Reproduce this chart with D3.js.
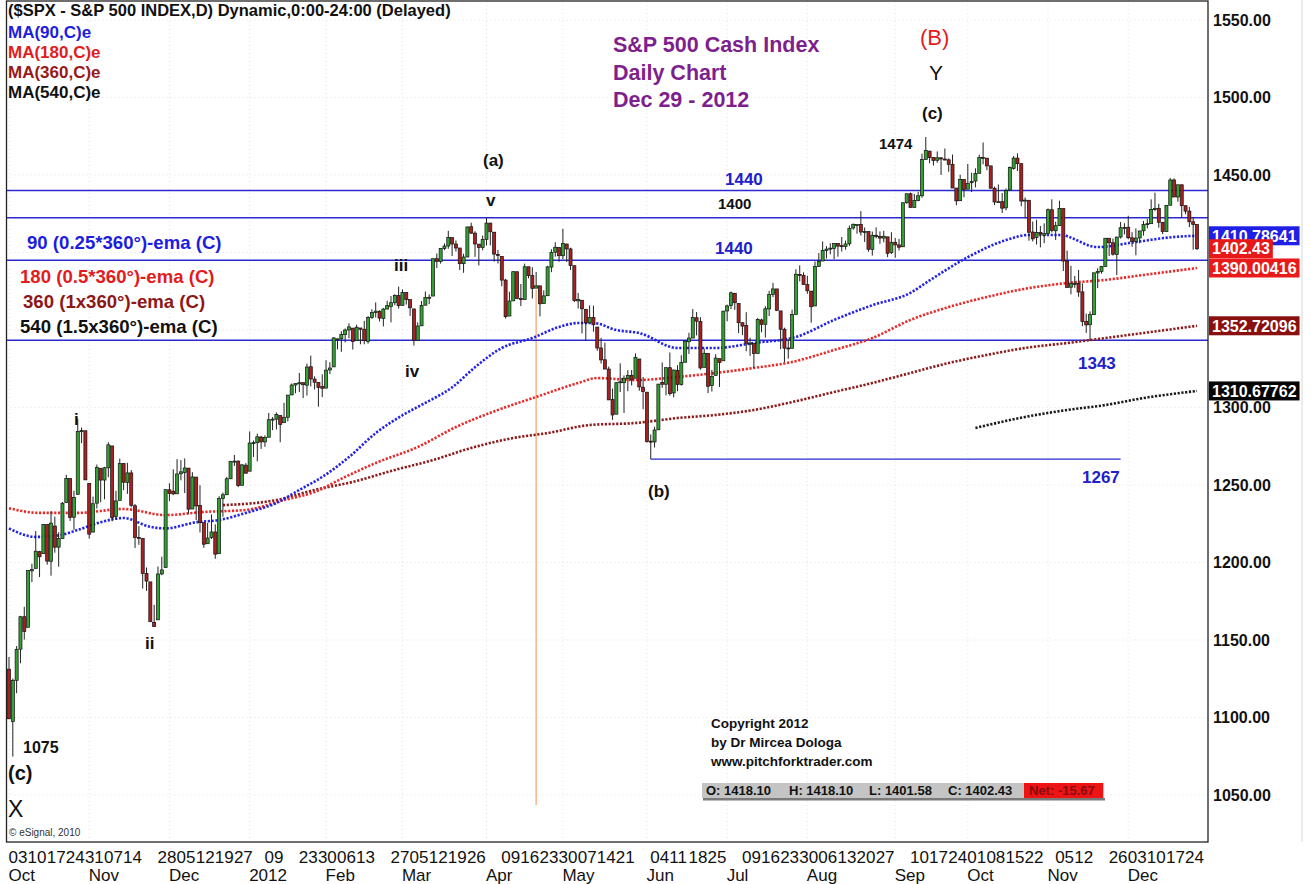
<!DOCTYPE html>
<html lang="en">
<head>
<meta charset="UTF-8">
<title>S&amp;P 500 Cash Index - Daily Chart</title>
<script src="https://d3js.org/d3.v7.min.js"></script>
<style>
  body { margin: 0; background: #fff; }
  svg text { font-family: "Liberation Sans", Arial, sans-serif; }
</style>
</head>
<body>
<svg width="1311" height="884"></svg>
<script>
// trading days shown on the chart, per month
const monthDays = [
  ['2011-10', [3,4,5,6,7,10,11,12,13,14,17,18,19,20,21,24,25,26,27,28,31]],
  ['2011-11', [1,2,3,4,7,8,9,10,11,14,15,16,17,18,21,22,23,25,28,29,30]],
  ['2011-12', [1,2,5,6,7,8,9,12,13,14,15,16,19,20,21,22,23,27,28,29,30]],
  ['2012-01', [3,4,5,6,9,10,11,12,13,17,18,19,20,23,24,25,26,27,30,31]],
  ['2012-02', [1,2,3,6,7,8,9,10,13,14,15,16,17,21,22,23,24,27,28,29]],
  ['2012-03', [1,2,5,6,7,8,9,12,13,14,15,16,19,20,21,22,23,26,27,28,29,30]],
  ['2012-04', [2,3,4,5,9,10,11,12,13,16,17,18,19,20,23,24,25,26,27,30]],
  ['2012-05', [1,2,3,4,7,8,9,10,11,14,15,16,17,18,21,22,23,24,25,29,30,31]],
  ['2012-06', [1,4,5,6,7,8,11,12,13,14,15,18,19,20,21,22,25,26,27,28,29]],
  ['2012-07', [2,3,5,6,9,10,11,12,13,16,17,18,19,20,23,24,25,26,27,30,31]],
  ['2012-08', [1,2,3,6,7,8,9,10,13,14,15,16,17,20,21,22,23,24,27,28,29,30,31]],
  ['2012-09', [4,5,6,7,10,11,12,13,14,17,18,19,20,21,24,25,26,27,28]],
  ['2012-10', [1,2,3,4,5,8,9,10,11,12,15,16,17,18,19,22,23,24,25,26,31]],
  ['2012-11', [1,2,5,6,7,8,9,12,13,14,15,16,19,20,21,23,26,27,28,29,30]],
  ['2012-12', [3,4,5,6,7,10,11,12,13,14,17,18,19,20,21,24,26,27,28]]
];

const open = [
  1131.2,1097.4,1124.0,1144.1,1165.0,1158.2,1194.6,1196.2,1207.0,1205.7,1224.5,1200.8,1223.5,1209.9,1215.4,1238.7,1254.2,1229.2,1244.0,1284.4,1285.0,
  1251.0,1219.6,1238.3,1260.8,1253.2,1261.1,1275.2,1229.6,1240.1,1263.9,1251.7,1257.8,1236.6,1216.2,1215.6,1193.0,1187.5,1161.4,1163.0,1192.6,1196.7,
  1246.9,1246.0,1244.3,1257.2,1258.1,1260.9,1234.5,1255.1,1236.8,1225.7,1212.1,1216.1,1219.7,1205.7,1241.3,1243.7,1254.0,1265.0,1265.4,1249.8,1262.8,
  1258.9,1277.0,1277.3,1280.9,1277.8,1280.8,1292.0,1292.5,1294.8,1290.2,1293.7,1308.1,1314.5,1315.3,1316.0,1314.4,1326.3,1318.3,1316.2,1313.5,
  1312.5,1324.2,1326.2,1344.3,1344.3,1347.0,1350.0,1351.2,1343.1,1351.3,1350.5,1342.6,1358.1,1361.2,1362.1,1357.5,1363.5,1365.2,1367.6,1372.2,
  1365.9,1374.1,1369.6,1363.6,1343.4,1352.7,1366.0,1370.8,1371.9,1396.0,1394.2,1402.6,1404.2,1409.6,1405.5,1402.9,1392.8,1397.1,1416.6,1412.5,1405.4,1403.3,
  1408.5,1419.0,1413.1,1398.8,1397.5,1382.2,1359.0,1368.8,1387.6,1370.3,1369.6,1390.8,1385.1,1377.0,1378.5,1367.0,1372.1,1390.6,1400.2,1403.3,
  1397.9,1405.5,1402.3,1391.5,1368.8,1369.2,1363.2,1354.6,1358.1,1351.9,1338.4,1330.8,1324.8,1305.1,1295.7,1316.1,1316.0,1318.7,1320.8,1318.9,1331.3,1313.1,
  1309.9,1278.3,1277.8,1285.6,1316.2,1315.0,1325.7,1309.4,1324.0,1314.9,1329.2,1342.4,1344.8,1357.9,1355.4,1325.9,1334.9,1314.1,1320.7,1331.5,1330.1,
  1362.3,1365.8,1373.7,1367.1,1354.7,1353.0,1341.4,1341.3,1334.8,1356.5,1353.7,1363.6,1373.0,1376.5,1362.3,1350.5,1338.4,1338.2,1360.1,1385.9,1385.3,
  1379.3,1375.1,1365.5,1391.0,1394.5,1401.2,1402.3,1402.6,1405.9,1404.4,1403.9,1405.6,1415.8,1417.9,1418.1,1413.1,1413.5,1402.0,1411.1,1410.4,1409.3,1410.1,1400.1,
  1406.5,1404.9,1403.7,1432.1,1437.9,1429.1,1433.6,1436.6,1460.1,1465.4,1461.2,1459.5,1461.1,1460.3,1459.8,1456.9,1441.6,1433.4,1447.1,
  1440.9,1445.0,1446.1,1451.1,1461.4,1460.9,1455.9,1441.5,1432.8,1432.8,1428.8,1440.3,1454.2,1460.9,1457.3,1433.2,1433.7,1413.2,1409.7,1413.0,1411.0,
  1412.2,1427.6,1414.0,1417.3,1428.3,1394.5,1377.6,1379.9,1380.0,1374.6,1355.4,1353.4,1359.9,1386.8,1387.8,1391.0,1409.2,1406.3,1398.8,1410.0,1416.0,
  1416.3,1409.5,1407.1,1409.4,1414.0,1418.1,1418.6,1427.8,1428.5,1419.5,1413.5,1430.5,1446.8,1435.8,1443.7,1430.2,1426.7,1419.8,1418.1
];
const high = [
  1139.0,1125.1,1146.1,1165.6,1171.4,1194.9,1199.2,1220.3,1207.5,1224.6,1224.5,1233.1,1229.6,1219.5,1239.0,1256.6,1254.2,1246.3,1292.7,1287.1,1285.0,
  1251.0,1242.5,1263.2,1260.8,1261.7,1277.6,1275.2,1246.2,1267.0,1263.9,1264.3,1259.6,1237.7,1223.5,1215.6,1196.8,1187.5,1172.7,1197.4,1203.7,1247.1,
  1251.1,1260.1,1266.7,1266.0,1267.1,1260.9,1258.3,1255.1,1249.9,1225.7,1225.6,1231.0,1224.6,1242.8,1245.1,1255.2,1265.4,1269.4,1265.9,1263.5,1264.1,
  1284.6,1278.7,1283.1,1281.8,1282.0,1296.5,1293.8,1296.8,1294.8,1303.0,1308.1,1315.5,1315.4,1322.3,1316.0,1328.3,1333.5,1320.1,1316.2,1321.4,
  1330.5,1329.2,1345.3,1344.4,1349.2,1351.0,1354.3,1351.2,1353.4,1351.3,1355.9,1359.0,1363.4,1367.8,1362.7,1364.2,1368.9,1371.9,1373.1,1378.0,
  1376.2,1374.5,1369.6,1363.6,1354.9,1368.7,1374.8,1373.0,1396.1,1399.4,1402.6,1405.9,1414.0,1409.6,1407.8,1402.9,1399.2,1416.6,1419.2,1413.7,1405.4,1410.9,
  1422.4,1419.0,1413.1,1401.6,1397.5,1383.0,1374.7,1388.1,1387.6,1379.7,1392.8,1390.8,1390.5,1387.4,1378.5,1375.6,1391.4,1402.1,1406.6,1403.3,
  1415.3,1405.5,1403.1,1391.5,1373.9,1369.2,1363.7,1365.9,1365.7,1351.9,1344.9,1341.8,1326.4,1312.2,1316.4,1328.5,1320.7,1324.1,1324.2,1334.9,1331.3,1319.7,
  1309.9,1282.6,1287.6,1315.1,1329.1,1325.8,1335.5,1324.3,1327.3,1333.7,1343.3,1348.2,1363.5,1361.6,1358.3,1337.8,1334.9,1324.2,1334.4,1331.5,1362.2,
  1366.4,1374.8,1373.9,1367.1,1354.9,1361.5,1345.0,1341.3,1357.7,1357.3,1365.4,1375.3,1380.4,1376.5,1362.3,1351.5,1344.0,1363.1,1389.2,1391.7,1387.2,
  1385.0,1375.1,1394.2,1399.6,1407.1,1404.1,1406.0,1406.0,1405.9,1410.0,1407.7,1417.4,1418.7,1418.1,1426.7,1416.1,1413.5,1413.5,1416.2,1413.6,1414.0,1410.1,1413.1,
  1409.3,1408.8,1432.1,1437.9,1438.7,1437.8,1439.2,1463.8,1474.5,1465.6,1461.5,1465.2,1461.2,1467.1,1460.7,1463.2,1441.6,1450.2,1447.1,
  1457.1,1451.5,1454.3,1463.1,1471.0,1460.9,1455.9,1442.5,1443.9,1438.4,1441.3,1455.5,1462.2,1464.0,1457.3,1435.5,1433.7,1420.0,1421.1,1417.1,1418.8,
  1428.4,1434.3,1419.9,1433.4,1428.3,1401.2,1391.4,1384.9,1388.8,1380.1,1360.6,1362.0,1386.9,1389.8,1391.3,1409.2,1409.2,1409.0,1410.3,1419.7,1418.9,
  1423.7,1413.1,1415.6,1414.0,1420.3,1421.6,1434.3,1438.6,1431.4,1419.5,1430.7,1448.0,1447.8,1443.7,1443.7,1430.2,1429.4,1422.8,1418.1
];
const low = [
  1098.9,1074.8,1115.7,1135.0,1150.3,1158.2,1187.3,1196.2,1190.6,1205.7,1198.6,1191.5,1206.3,1197.3,1215.4,1238.7,1226.8,1221.1,1244.0,1277.0,1253.2,
  1215.4,1219.6,1234.8,1238.9,1240.8,1255.0,1226.6,1227.7,1240.1,1246.7,1244.3,1235.7,1209.4,1211.4,1183.2,1181.7,1161.8,1158.7,1163.0,1191.8,1196.7,
  1239.7,1243.4,1244.3,1253.0,1244.8,1231.5,1234.5,1227.3,1219.4,1209.5,1212.1,1215.2,1202.4,1205.7,1229.5,1243.7,1254.0,1262.3,1248.6,1249.8,1257.5,
  1258.9,1268.1,1265.3,1273.3,1274.6,1280.8,1285.4,1285.8,1277.6,1290.2,1291.0,1308.1,1309.2,1309.9,1306.1,1307.7,1313.6,1311.7,1300.5,1306.7,
  1312.5,1321.6,1326.2,1337.5,1335.9,1342.0,1344.6,1337.4,1343.1,1340.8,1340.8,1341.2,1357.2,1358.1,1355.5,1352.3,1363.5,1354.9,1366.0,1363.8,
  1365.9,1366.4,1359.1,1340.0,1343.4,1352.7,1366.0,1366.7,1371.9,1390.0,1392.8,1401.5,1402.4,1397.7,1400.6,1388.7,1386.9,1397.1,1412.0,1397.2,1391.6,1401.4,
  1404.5,1404.6,1394.1,1392.9,1378.2,1357.4,1359.0,1368.8,1369.9,1365.4,1369.6,1383.3,1370.3,1377.0,1358.8,1366.8,1372.1,1387.3,1397.3,1394.0,
  1395.7,1393.9,1388.7,1368.0,1363.9,1347.8,1343.1,1354.6,1348.9,1336.6,1328.4,1324.8,1304.9,1292.0,1295.7,1310.0,1296.5,1310.5,1314.2,1318.9,1310.8,1298.9,
  1277.3,1266.7,1274.2,1285.6,1312.7,1307.8,1307.7,1306.6,1310.5,1314.1,1329.2,1334.5,1344.8,1346.5,1324.4,1325.9,1309.3,1310.3,1320.7,1313.3,1330.1,
  1355.7,1363.5,1363.0,1348.0,1346.7,1336.3,1333.3,1325.4,1334.8,1348.5,1345.1,1359.0,1371.2,1362.2,1337.6,1329.2,1331.5,1338.2,1360.1,1381.4,1379.2,
  1373.4,1354.7,1365.5,1391.0,1394.5,1396.1,1398.8,1395.6,1397.3,1400.6,1401.8,1404.2,1414.7,1412.1,1410.9,1406.8,1400.5,1398.0,1409.1,1405.6,1406.6,1397.0,1399.0,
  1396.6,1401.3,1403.7,1431.5,1429.0,1429.1,1433.0,1435.3,1460.1,1457.6,1456.1,1457.9,1450.0,1459.5,1452.1,1441.6,1430.5,1433.4,1435.6,
  1440.9,1439.0,1442.0,1451.1,1456.9,1453.1,1441.2,1430.6,1432.8,1425.5,1427.2,1440.3,1453.4,1452.6,1429.9,1422.1,1407.6,1407.1,1405.1,1403.3,1406.0,
  1412.2,1412.9,1408.1,1417.3,1388.1,1377.5,1373.0,1377.2,1371.4,1352.5,1348.1,1343.4,1359.9,1377.0,1386.4,1391.0,1397.7,1398.0,1385.4,1409.0,1411.6,
  1408.5,1403.7,1398.2,1405.9,1410.9,1415.6,1418.6,1426.8,1416.0,1411.9,1413.5,1430.5,1435.8,1432.8,1422.6,1424.7,1416.4,1401.8,1401.6
];
const close = [
  1099.2,1124.0,1144.0,1165.0,1155.5,1194.9,1195.5,1207.3,1203.7,1224.6,1200.9,1225.4,1209.9,1215.4,1238.3,1254.2,1229.1,1242.0,1284.6,1285.1,1253.3,
  1218.3,1237.9,1261.2,1253.2,1261.1,1275.9,1229.1,1239.7,1263.9,1251.8,1257.8,1236.9,1216.1,1215.7,1193.0,1188.0,1161.8,1158.7,1192.6,1195.2,1247.0,
  1244.6,1244.3,1257.1,1258.5,1261.0,1234.4,1255.2,1236.5,1225.7,1211.8,1215.8,1219.7,1205.4,1241.3,1243.7,1254.0,1265.3,1265.4,1249.6,1263.0,1257.6,
  1277.1,1277.3,1281.1,1277.8,1280.7,1292.1,1292.5,1295.5,1289.1,1293.7,1308.0,1314.5,1315.4,1316.0,1314.7,1326.1,1318.4,1316.3,1313.0,1312.4,
  1324.1,1325.5,1344.9,1344.3,1347.1,1350.0,1352.0,1342.6,1351.8,1350.5,1343.2,1358.0,1361.2,1362.2,1357.7,1363.5,1365.7,1367.6,1372.2,1365.7,
  1374.1,1369.6,1364.3,1343.4,1352.6,1365.9,1370.9,1371.1,1396.0,1394.3,1402.6,1404.2,1409.8,1405.5,1402.9,1392.8,1397.1,1416.5,1412.5,1405.5,1403.3,1408.5,
  1419.0,1413.4,1399.0,1398.1,1382.2,1358.6,1368.7,1387.6,1370.3,1369.6,1390.8,1385.1,1376.9,1378.5,1366.9,1372.0,1390.7,1400.0,1403.4,1397.9,
  1405.8,1402.3,1391.6,1369.1,1369.6,1363.7,1354.6,1358.0,1353.4,1338.4,1330.7,1324.8,1304.9,1295.2,1316.0,1316.6,1318.9,1320.7,1317.8,1332.4,1313.3,1310.3,
  1278.0,1278.2,1285.5,1315.1,1315.0,1325.7,1308.9,1324.2,1314.9,1329.1,1342.8,1344.8,1358.0,1355.7,1325.5,1335.0,1313.7,1320.0,1331.9,1329.0,1362.2,
  1365.5,1374.0,1367.6,1354.7,1352.5,1341.5,1341.5,1334.8,1356.8,1353.6,1363.7,1372.8,1376.5,1362.7,1350.5,1338.3,1337.9,1360.0,1386.0,1385.3,1379.3,
  1375.3,1365.0,1391.0,1394.2,1401.4,1402.2,1402.8,1405.9,1404.1,1403.9,1405.5,1415.5,1418.2,1418.1,1413.2,1413.5,1402.1,1411.1,1410.4,1409.3,1410.5,1399.5,1406.6,
  1404.9,1403.4,1432.1,1437.9,1429.1,1433.6,1436.6,1460.0,1465.8,1461.2,1459.3,1461.1,1460.3,1460.2,1456.9,1441.6,1433.3,1447.2,1440.7,
  1444.5,1445.8,1451.0,1461.4,1460.9,1455.9,1441.5,1432.6,1432.8,1428.6,1440.1,1454.9,1460.9,1457.3,1433.2,1433.8,1413.1,1408.8,1413.0,1411.9,1412.2,
  1427.6,1414.2,1417.3,1428.4,1394.5,1377.5,1379.9,1380.0,1374.5,1355.5,1353.3,1359.9,1386.9,1387.8,1391.0,1409.2,1406.3,1398.9,1409.9,1416.0,1416.2,
  1409.5,1407.1,1409.3,1413.9,1418.1,1418.6,1427.8,1428.5,1419.5,1413.6,1430.4,1446.8,1435.8,1443.7,1430.2,1426.7,1419.8,1418.1,1402.43
];

// moving averages at sample dates
const ema90 = [
  ['2011-10-03',1222],['2011-10-12',1216.5],['2011-10-20',1217.5],['2011-10-27',1221],['2011-11-04',1226],
  ['2011-11-14',1228.7],['2011-11-23',1223],['2011-11-30',1222],['2011-12-12',1226],['2011-12-20',1227.4],
  ['2011-12-30',1232],['2012-01-12',1238.4],['2012-01-23',1246.8],['2012-01-31',1255.2],['2012-02-09',1268],
  ['2012-02-21',1283.5],['2012-03-01',1295],['2012-03-09',1303],['2012-03-20',1313],['2012-03-28',1326],
  ['2012-04-09',1338.4],['2012-04-19',1344.8],['2012-04-30',1352],['2012-05-07',1354.5],['2012-05-11',1354.5],
  ['2012-05-21',1350],['2012-05-30',1348],['2012-06-13',1338.4],['2012-06-27',1338.4],['2012-07-12',1341.6],
  ['2012-07-27',1345.5],['2012-08-10',1356.5],['2012-08-24',1366],['2012-09-10',1374],['2012-09-17',1382],
  ['2012-10-01',1397],['2012-10-15',1408],['2012-10-23',1411.3],['2012-11-06',1411.3],['2012-11-20',1403.5],
  ['2012-12-05',1406.8],['2012-12-19',1410],['2012-12-28',1410.79]
];
const ema180 = [
  ['2011-10-03',1235],['2011-10-13',1232],['2011-10-27',1232],['2011-11-14',1234.5],['2011-11-30',1230.6],
  ['2011-12-14',1232.6],['2011-12-30',1233.9],['2012-01-17',1240.3],['2012-01-27',1245.5],['2012-02-08',1255.2],
  ['2012-02-21',1264.2],['2012-03-07',1274.5],['2012-03-21',1287.4],['2012-04-05',1298.4],['2012-04-20',1306.8],
  ['2012-05-07',1315.8],['2012-05-14',1319],['2012-05-29',1317.7],['2012-06-13',1319.7],['2012-06-27',1322.3],
  ['2012-07-12',1325.5],['2012-07-26',1329.4],['2012-08-10',1337.1],['2012-08-24',1344.8],['2012-09-10',1356.5],
  ['2012-09-24',1364.8],['2012-10-08',1371.3],['2012-10-22',1376.6],['2012-11-08',1380.3],['2012-11-23',1382.3],
  ['2012-12-07',1385.5],['2012-12-28',1390.00416]
];
const ema360 = [
  ['2011-12-21',1237],['2012-01-12',1240.3],['2012-01-27',1246.8],['2012-02-10',1252],['2012-02-28',1259.7],
  ['2012-03-13',1266.1],['2012-03-27',1273.9],['2012-04-12',1280.3],['2012-04-25',1283.5],['2012-05-10',1288.7],
  ['2012-05-29',1290],['2012-06-13',1293.2],['2012-06-27',1295.2],['2012-07-12',1298.4],['2012-07-26',1303.5],
  ['2012-08-10',1310],['2012-08-24',1315.8],['2012-09-10',1322.3],['2012-09-24',1328.7],['2012-10-08',1333.9],
  ['2012-10-22',1338.4],['2012-11-08',1341.6],['2012-11-23',1344.8],['2012-12-07',1348.1],['2012-12-28',1352.72096]
];
const ema540 = [
  ['2012-10-03',1286.8],['2012-10-22',1293.9],['2012-11-08',1298.4],['2012-11-23',1301.6],['2012-12-07',1306.1],
  ['2012-12-28',1310.67762]
];

// last values shown in the price scale
const lastLabels = ['1410.78641', '1402.43', '1390.00416', '1352.72096', '1310.67762'];
const lastValues = [1410.78641, 1402.43, 1390.00416, 1352.72096, 1310.67762];

// support / resistance levels
const levels = [1440, 1422.4, 1395, 1343.4];
const level1267 = {from: '2012-06-04', to: '2012-11-29', value: 1266.7};
const markerDate = '2012-04-20';

// axis ticks (1350 and 1400 sit under the last-value boxes)
const gridTicks = [1050, 1100, 1150, 1200, 1250, 1300, 1350, 1400, 1450, 1500, 1550];
const yTicks = [1050, 1100, 1150, 1200, 1250, 1300, 1450, 1500, 1550];
const weekTicks = [
  '2011-10-03','2011-10-10','2011-10-17','2011-10-24','2011-10-31','2011-11-07','2011-11-14','2011-11-28',
  '2011-12-05','2011-12-12','2011-12-19','2011-12-27','2012-01-09','2012-01-23','2012-01-30','2012-02-06',
  '2012-02-13','2012-02-27','2012-03-05','2012-03-12','2012-03-19','2012-03-26','2012-04-09','2012-04-16',
  '2012-04-23','2012-04-30','2012-05-07','2012-05-14','2012-05-21','2012-06-04','2012-06-11','2012-06-18',
  '2012-06-25','2012-07-09','2012-07-16','2012-07-23','2012-07-30','2012-08-06','2012-08-13','2012-08-20',
  '2012-08-27','2012-09-10','2012-09-17','2012-09-24','2012-10-01','2012-10-08','2012-10-15','2012-10-22',
  '2012-11-05','2012-11-12','2012-11-26','2012-12-03','2012-12-10','2012-12-17','2012-12-24'
];
const monthTicks = ['2011-10-03','2011-11-01','2011-12-01','2012-01-03','2012-02-01','2012-03-01','2012-04-02',
  '2012-05-01','2012-06-01','2012-07-02','2012-08-01','2012-09-04','2012-10-01','2012-11-01','2012-12-03'];
const monthNames = ['Oct','Nov','Dec','2012','Feb','Mar','Apr','May','Jun','Jul','Aug','Sep','Oct','Nov','Dec'];

// ---------------------------------------------------------------
const dates = monthDays.flatMap(function (m) {
  return m[1].map(function (d) { return m[0] + '-' + String(d).padStart(2, '0'); });
});
[open, high, low, close].forEach(function (a, i) {
  if (a.length !== dates.length) throw new Error('series ' + i + ' has ' + a.length + ' values, dates ' + dates.length);
});
const bars = dates.map(function (d, i) {
  return {date: d, o: open[i], h: high[i], l: low[i], c: close[i]};
});

const svg = d3.select('svg');
const frame = {left: 6.5, right: 1208, top: 1, bottom: 842};

const x = d3.scalePoint().domain(dates).range([9, 1197]);
const y = d3.scaleLinear().domain([1050, 1550]).range([795, 20]);

// faint grid
const grid = svg.append('g').attr('stroke', '#e2e2e2').attr('stroke-dasharray', '1,3');
grid.selectAll('line.h').data(gridTicks).join('line')
  .attr('x1', frame.left).attr('x2', frame.right)
  .attr('y1', function (d) { return y(d); }).attr('y2', function (d) { return y(d); });
grid.selectAll('line.v').data(monthTicks).join('line')
  .attr('x1', function (d) { return x(d); }).attr('x2', function (d) { return x(d); })
  .attr('y1', frame.top).attr('y2', frame.bottom);

// orange marker line
svg.append('line')
  .attr('x1', x(markerDate)).attr('x2', x(markerDate))
  .attr('y1', y(1376)).attr('y2', y(1043.5))
  .attr('stroke', '#f7b98c').attr('stroke-width', 1.6);

// horizontal levels
svg.append('g').selectAll('line').data(levels).join('line')
  .attr('x1', frame.left).attr('x2', frame.right)
  .attr('y1', function (d) { return y(d); }).attr('y2', function (d) { return y(d); })
  .attr('stroke', '#2a2ad0').attr('stroke-width', 1.4);
svg.append('line')
  .attr('x1', x(level1267.from)).attr('x2', x(level1267.to))
  .attr('y1', y(level1267.value)).attr('y2', y(level1267.value))
  .attr('stroke', '#2a2ad0').attr('stroke-width', 1.4);

// moving averages (dotted)
const maLine = d3.line()
  .x(function (d) { return x(d[0]); })
  .y(function (d) { return y(d[1]); })
  .curve(d3.curveMonotoneX);
[[ema540, '#1a1a1a'], [ema360, '#8e1b1b'], [ema180, '#e82a2a'], [ema90, '#2323e6']].forEach(function (s) {
  svg.append('path')
    .datum(s[0])
    .attr('d', maLine)
    .attr('fill', 'none')
    .attr('stroke', s[1])
    .attr('stroke-width', 2.6)
    .attr('stroke-dasharray', '2.2,1.6');
});

// candles
const bw = x.step() * 0.8;
const candles = svg.append('g').selectAll('g').data(bars).join('g');
candles.append('line')
  .attr('x1', function (d) { return x(d.date); }).attr('x2', function (d) { return x(d.date); })
  .attr('y1', function (d) { return y(d.h); }).attr('y2', function (d) { return y(d.l); })
  .attr('stroke', '#222').attr('stroke-width', 1);
candles.append('rect')
  .attr('x', function (d) { return x(d.date) - bw / 2; })
  .attr('width', bw)
  .attr('y', function (d) { return y(Math.max(d.o, d.c)); })
  .attr('height', function (d) { return Math.max(1, Math.abs(y(d.o) - y(d.c))); })
  .attr('fill', function (d) { return d.c >= d.o ? '#32a032' : '#a82020'; })
  .attr('stroke', '#111').attr('stroke-width', 0.7);

// frame
svg.append('rect')
  .attr('x', frame.left).attr('y', frame.top)
  .attr('width', frame.right - frame.left).attr('height', frame.bottom - frame.top)
  .attr('fill', 'none').attr('stroke', '#222').attr('stroke-width', 1.3);
svg.append('line').attr('x1', 1302).attr('x2', 1302).attr('y1', 0).attr('y2', 842)
  .attr('stroke', '#d8d8d8');

// price axis
const yAxis = svg.append('g')
  .attr('transform', 'translate(' + frame.right + ',0)')
  .call(d3.axisRight(y).tickValues(yTicks).tickFormat(d3.format('.2f')).tickSize(0).tickPadding(5));
yAxis.select('.domain').remove();
yAxis.selectAll('text').attr('font-size', 16).attr('font-weight', 'bold').attr('fill', '#111')
  .attr('font-family', '"Liberation Sans", Arial, sans-serif');

// last value boxes
const boxColors = ['#1f1fe6', '#e81818', '#ea1a1a', '#8a1010', '#050505'];
const boxes = svg.append('g').selectAll('g').data(lastValues).join('g')
  .attr('transform', function (d) { return 'translate(1209,' + y(d) + ')'; });
boxes.each(function (d, i) {
  const g = d3.select(this);
  const r = g.append('rect').attr('y', -9.5).attr('height', 19).attr('fill', boxColors[i]);
  const t = g.append('text').attr('x', 3).attr('dy', '0.36em')
    .attr('font-size', 16).attr('font-weight', 'bold').attr('fill', '#fff').text(lastLabels[i]);
  r.attr('width', t.node().getComputedTextLength() + 6);
});

// date axis: weekly labels and month labels
const xWeeks = svg.append('g')
  .attr('transform', 'translate(0,' + frame.bottom + ')')
  .call(d3.axisBottom(x).tickValues(weekTicks).tickSize(0).tickPadding(0)
    .tickFormat(function (d) { return d.slice(8); }));
xWeeks.select('.domain').remove();
xWeeks.selectAll('text').attr('text-anchor', 'start').attr('dx', -1).attr('y', 21).attr('dy', 0)
  .attr('font-size', 17).attr('fill', '#111').attr('font-family', '"Liberation Sans", Arial, sans-serif');

const xMonths = svg.append('g')
  .attr('transform', 'translate(0,' + frame.bottom + ')')
  .call(d3.axisBottom(x).tickValues(monthTicks).tickSize(0).tickPadding(0)
    .tickFormat(function (d, i) { return monthNames[i]; }));
xMonths.select('.domain').remove();
xMonths.selectAll('text').attr('text-anchor', 'start').attr('dx', -1).attr('y', 39).attr('dy', 0)
  .attr('font-size', 17).attr('fill', '#111').attr('font-family', '"Liberation Sans", Arial, sans-serif');

// texts
function label(t, px, py, size, color, weight) {
  return svg.append('text').attr('x', px).attr('y', py)
    .attr('font-size', size).attr('fill', color || '#111')
    .attr('font-weight', weight || 'bold').text(t);
}

label('($SPX - S&P 500 INDEX,D) Dynamic,0:00-24:00 (Delayed)', 8, 16, 16.5);
label('MA(90,C)e', 8, 38, 17, '#1d1de0');
label('MA(180,C)e', 8, 58, 17, '#e21c1c');
label('MA(360,C)e', 8, 78, 17, '#9a1818');
label('MA(540,C)e', 8, 98, 17, '#111');

label('S&P 500 Cash Index', 613, 52, 21.5, '#7e1f8e');
label('Daily Chart', 613, 80, 21.5, '#7e1f8e');
label('Dec 29 - 2012', 613, 107, 21.5, '#7e1f8e');

label('(B)', 920, 45, 22, '#e21c1c', 'normal');
label('Y', 929, 80, 21, '#111', 'normal');
label('(c)', 922, 119, 17);
label('1474', 879, 149, 15);
label('(a)', 483, 166, 17);
label('v', 486, 206, 17);
label('iii', 394, 271, 17);
label('iv', 405, 377, 17);
label('i', 74, 425, 17);
label('ii', 145, 649, 17);
label('1075', 23, 753, 16);
label('(c)', 8, 780, 20);
label('X', 8, 817, 23, '#111', 'normal');
label('(b)', 648, 497, 17);

label('1440', 725, 185, 17, '#2020cc');
label('1400', 718, 209, 15);
label('1440', 715, 254, 17, '#2020cc');
label('1343', 1078, 369, 17, '#2020cc');
label('1267', 1082, 483, 17, '#2020cc');

label('90 (0.25*360°)-ema (C)', 27, 249, 18.6, '#1d1de0');
label('180 (0.5*360°)-ema (C)', 20, 283, 18.6, '#e21c1c');
label('360 (1x360°)-ema (C)', 23, 308, 18.6, '#8e1717');
label('540 (1.5x360°)-ema (C)', 20, 333, 18.6, '#111');

label('Copyright 2012', 711, 728, 13.5);
label('by Dr Mircea Dologa', 711, 747, 13.5);
label('www.pitchforktrader.com', 711, 766, 13.5);

label('© eSignal, 2010', 9, 836, 10, '#333', 'normal');

// OHLC status bar for the last bar
const last = bars[bars.length - 1];
const fix2 = function (v) { return v.toFixed(2); };
svg.append('rect').attr('x', 703).attr('y', 798).attr('width', 402).attr('height', 2.5).attr('fill', '#7a7a7a');
svg.append('rect').attr('x', 702).attr('y', 783).attr('width', 402).attr('height', 15).attr('fill', '#c4c4c4');
svg.append('rect').attr('x', 1024).attr('y', 783).attr('width', 79).attr('height', 15).attr('fill', '#ec1414');
label('O: ' + fix2(1418.10), 706, 795, 13);
label('H: ' + fix2(last.h), 789, 795, 13);
label('L: ' + fix2(1401.58), 869, 795, 13);
label('C: ' + fix2(last.c), 948, 795, 13);
label('Net: ' + fix2(last.c - 1418.10), 1029, 795, 13, '#8a0c0c');
</script>
</body>
</html>
